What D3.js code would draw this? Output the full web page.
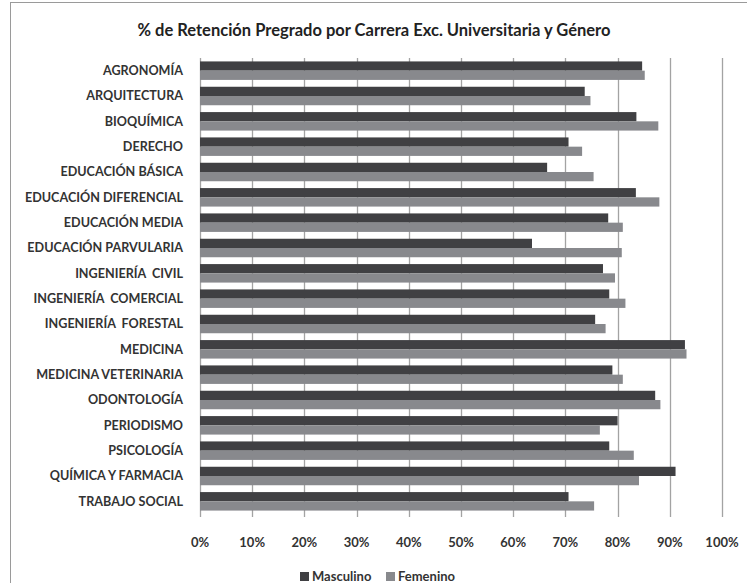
<!DOCTYPE html>
<html lang="es">
<head>
<meta charset="utf-8">
<title>% de Retención Pregrado por Carrera</title>
<style>
  body { margin: 0; background: #fff; }
  text { font-family: Lato, "Open Sans", sans-serif; fill: #333; }
</style>
</head>
<body>
<script src="https://cdn.jsdelivr.net/npm/d3@7/dist/d3.min.js"></script>
<script>
// categories and values (percent)
var carreras = ["AGRONOMÍA", "ARQUITECTURA", "BIOQUÍMICA", "DERECHO", "EDUCACIÓN BÁSICA",
  "EDUCACIÓN DIFERENCIAL", "EDUCACIÓN MEDIA", "EDUCACIÓN PARVULARIA", "INGENIERÍA  CIVIL",
  "INGENIERÍA  COMERCIAL", "INGENIERÍA  FORESTAL", "MEDICINA", "MEDICINA VETERINARIA",
  "ODONTOLOGÍA", "PERIODISMO", "PSICOLOGÍA", "QUÍMICA Y FARMACIA", "TRABAJO SOCIAL"];
var masculino = [84.7, 73.7, 83.6, 70.6, 66.5, 83.5, 78.2, 63.6, 77.2, 78.4, 75.7, 92.9, 79.0, 87.2, 80.0, 78.4, 91.1, 70.6];
var femenino  = [85.2, 74.8, 87.8, 73.2, 75.4, 88.0, 81.0, 80.8, 79.5, 81.5, 77.7, 93.2, 81.0, 88.2, 76.6, 83.1, 84.1, 75.5];
var series = ["Masculino", "Femenino"];
var colores = ["#404043", "#88898d"];
var ticks = [0, 10, 20, 30, 40, 50, 60, 70, 80, 90, 100];

var w = 747, h = 583;
var mLeft = 200, mRight = 722, mTop = 58, mBottom = 514;

var svg = d3.select("body").append("svg")
  .attr("width", w)
  .attr("height", h);

// outer frame
svg.append("rect")
  .attr("x", 10.5).attr("y", 2.5)
  .attr("width", w).attr("height", h)
  .attr("fill", "none")
  .attr("stroke", "#9a9a9a");

svg.append("text")
  .attr("x", 374).attr("y", 36)
  .attr("text-anchor", "middle")
  .style("font-size", "16.5px")
  .style("font-weight", "bold")
  .style("fill", "#222")
  .text("% de Retención Pregrado por Carrera Exc. Universitaria y Género");

var x = d3.scaleLinear().domain([0, 100]).range([mLeft, mRight]);
var y = d3.scaleBand().domain(carreras).range([mTop, mBottom]).paddingInner(0.27).paddingOuter(0.135);
var ySub = d3.scaleBand().domain(series).range([0, y.bandwidth()]);

// gridlines
svg.append("g").selectAll("line")
  .data(ticks)
  .enter().append("line")
  .attr("x1", function(d) { return Math.round(x(d)) + 0.5; })
  .attr("x2", function(d) { return Math.round(x(d)) + 0.5; })
  .attr("y1", mTop)
  .attr("y2", mBottom + 3)
  .attr("stroke", "#a3a3a3")
  .attr("stroke-width", 1.3);

// bars
var data = [];
carreras.forEach(function(c, i) {
  data.push({ c: c, s: "Masculino", v: masculino[i] });
  data.push({ c: c, s: "Femenino", v: femenino[i] });
});

svg.append("g").selectAll("rect")
  .data(data)
  .enter().append("rect")
  .attr("x", x(0))
  .attr("y", function(d) { return y(d.c) + ySub(d.s); })
  .attr("width", function(d) { return x(d.v) - x(0); })
  .attr("height", ySub.bandwidth())
  .attr("fill", function(d) { return colores[series.indexOf(d.s)]; });

// category labels
svg.append("g").selectAll("text")
  .data(carreras)
  .enter().append("text")
  .attr("x", 183)
  .attr("y", function(d) { return y(d) + y.bandwidth() / 2; })
  .attr("dy", "0.35em")
  .attr("text-anchor", "end")
  .style("font-size", "12.6px")
  .style("font-weight", "bold")
  .style("white-space", "pre")
  .text(function(d) { return d; });

// x axis labels
svg.append("g").selectAll("text")
  .data(ticks)
  .enter().append("text")
  .attr("x", function(d) { return x(d); })
  .attr("y", 542)
  .attr("dy", "0.35em")
  .attr("text-anchor", "middle")
  .style("font-size", "13px")
  .style("font-weight", "bold")
  .text(function(d) { return d + "%"; });

// legend
var legend = svg.append("g").selectAll("g")
  .data(series)
  .enter().append("g")
  .attr("transform", function(d, i) { return "translate(" + (300 + i * 86) + ",576)"; });

legend.append("rect")
  .attr("x", 0).attr("y", -4)
  .attr("width", 9).attr("height", 9)
  .attr("fill", function(d, i) { return colores[i]; });

legend.append("text")
  .attr("x", 12).attr("y", 0)
  .attr("dy", "0.35em")
  .style("font-size", "13px")
  .style("font-weight", "bold")
  .text(function(d) { return d; });
</script>
</body>
</html>
